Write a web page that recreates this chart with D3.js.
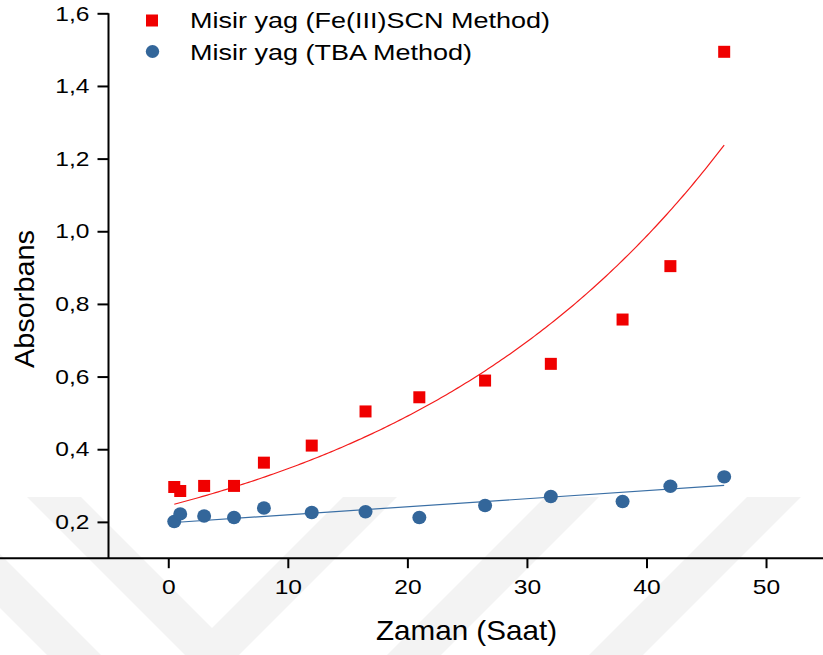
<!DOCTYPE html>
<html>
<head>
<meta charset="utf-8">
<script src="https://cdn.jsdelivr.net/npm/d3@7"></script>
<style>
  html, body { margin: 0; padding: 0; background: #fff; }
  svg { display: block; }
  text { font-family: "Liberation Sans", Arial, sans-serif; fill: #000; }
</style>
</head>
<body>
<svg id="chart" width="823" height="655"></svg>
<script>
// ---- data ----
const timeFe = [0.5, 1, 3, 5.5, 8, 12, 16.5, 21, 26.5, 32, 38, 42, 46.5];
const absFe  = [0.296, 0.285, 0.299, 0.299, 0.363, 0.410, 0.504, 0.543, 0.589, 0.635, 0.757, 0.904, 1.494];
const timeTBA = [0.5, 1, 3, 5.5, 8, 12, 16.5, 21, 26.5, 32, 38, 42, 46.5];
const absTBA  = [0.201, 0.222, 0.216, 0.212, 0.238, 0.226, 0.228, 0.212, 0.245, 0.270, 0.256, 0.298, 0.324];
// fitted curves (parameters read from the drawn fits)
const fitFe  = { a: 0.2443, b: 0.03489, from: 0.5, to: 46.5 };   // y = a*exp(b*x)
const fitTBA = { intercept: 0.1972, slope: 0.002219, from: 0.5, to: 46.5 };
const xTicks = [0, 10, 20, 30, 40, 50];
const xMinor = [-5, 5, 15, 25, 35, 45];
const yTicks = [0.2, 0.4, 0.6, 0.8, 1.0, 1.2, 1.4, 1.6];
const yMinor = [0.1, 0.3, 0.5, 0.7, 0.9, 1.1, 1.3, 1.5];
const seriesNames = ["Misir yag (Fe(III)SCN Method)", "Misir yag (TBA Method)"];
const xTitle = "Zaman (Saat)";
const yTitle = "Absorbans";

const svg = d3.select("#chart");

// ---- faint background watermark (decorative) ----
const wm = svg.append("g").attr("fill", "#f3f3f3");
const wmTop = 497, wmBot = 655, band = 54;
const drop = wmBot - wmTop;
const armsDown = [-111, 27];
const armsUp = [343, 545, 747];
armsDown.forEach(x0 => {
  wm.append("path").attr("d", `M${x0},${wmTop}L${x0 + band},${wmTop}L${x0 + band + drop},${wmBot}L${x0 + drop},${wmBot}Z`);
});
armsUp.forEach(x0 => {
  wm.append("path").attr("d", `M${x0},${wmTop}L${x0 + band},${wmTop}L${x0 + band - drop},${wmBot}L${x0 - drop},${wmBot}Z`);
});

// ---- scales ----
const x = d3.scaleLinear().domain([-5, 55]).range([108.5, 825.8]);
const y = d3.scaleLinear().domain([0.1, 1.6]).range([558.2, 13.3]);
const fmt = d => d3.format(".1f")(d).replace(".", ",");

// ---- axes ----
const gx = svg.append("g").attr("transform", `translate(0,${y(0.1)})`);
gx.call(d3.axisBottom(x).tickValues(xMinor).tickSize(5).tickFormat(""));
gx.call(d3.axisBottom(x).tickValues(xTicks).tickSize(10).tickPadding(8).tickFormat(d3.format("d")));
const gy = svg.append("g").attr("transform", `translate(${x(-5)},0)`);
gy.call(d3.axisLeft(y).tickValues(yMinor).tickSize(5).tickFormat(""));
gy.call(d3.axisLeft(y).tickValues(yTicks).tickSize(11).tickPadding(8).tickFormat(fmt));
[gx, gy].forEach(g => {
  g.selectAll(".domain").attr("stroke", "#000").attr("stroke-width", 2);
  g.selectAll(".tick line").attr("stroke", "#000").attr("stroke-width", 2);
  g.selectAll(".tick text").attr("font-size", 21).attr("fill", "#000")
    .attr("font-family", '"Liberation Sans", Arial, sans-serif');
});
gy.select(".domain").attr("d", `M0,${y(1.6)}V${y(0.1)}`);
gx.select(".domain").attr("d", `M0,0H${x(55)}`);
gx.selectAll(".tick text").attr("dy", "0.71em").attr("y", 21);
[gx, gy].forEach(g => g.selectAll(".tick text").each(function () {
  const L = this.getComputedTextLength();
  if (L > 0) d3.select(this).attr("textLength", L * 1.17).attr("lengthAdjust", "spacingAndGlyphs");
}));

// ---- fit lines ----
const line = d3.line().x(d => x(d[0])).y(d => y(d[1]));
const feFit = d3.range(0, 201).map(i => {
  const t = fitFe.from + (fitFe.to - fitFe.from) * i / 200;
  return [t, fitFe.a * Math.exp(fitFe.b * t)];
});
const tbaFit = [fitTBA.from, fitTBA.to].map(t => [t, fitTBA.intercept + fitTBA.slope * t]);
svg.append("path").attr("d", line(feFit)).attr("fill", "none").attr("stroke", "#f41c1c").attr("stroke-width", 1.2);
svg.append("path").attr("d", line(tbaFit)).attr("fill", "none").attr("stroke", "#3a6fa5").attr("stroke-width", 1.2);

// ---- markers ----
const sq = 12;
svg.append("g").selectAll("rect").data(timeFe.map((t, i) => [t, absFe[i]])).join("rect")
  .attr("x", d => x(d[0]) - sq / 2).attr("y", d => y(d[1]) - sq / 2)
  .attr("width", sq).attr("height", sq).attr("fill", "#f00000");
svg.append("g").selectAll("ellipse").data(timeTBA.map((t, i) => [t, absTBA[i]])).join("ellipse")
  .attr("cx", d => x(d[0])).attr("cy", d => y(d[1]))
  .attr("rx", 7).attr("ry", 6.7).attr("fill", "#33669a");

// ---- legend ----
const lg = svg.append("g");
lg.append("rect").attr("x", 146).attr("y", 14.5).attr("width", 12).attr("height", 12).attr("fill", "#f00000");
lg.append("ellipse").attr("cx", 152.5).attr("cy", 51.5).attr("rx", 6.7).attr("ry", 6.5).attr("fill", "#33669a");
lg.append("text").attr("x", 190).attr("y", 28.3).attr("font-size", 21.5)
  .attr("textLength", 360).attr("lengthAdjust", "spacingAndGlyphs").text(seriesNames[0]);
lg.append("text").attr("x", 190).attr("y", 59.5).attr("font-size", 21.5)
  .attr("textLength", 282).attr("lengthAdjust", "spacingAndGlyphs").text(seriesNames[1]);

// ---- axis titles ----
svg.append("text").attr("x", 466.5).attr("y", 640).attr("text-anchor", "middle")
  .attr("font-size", 28).attr("textLength", 181).attr("lengthAdjust", "spacingAndGlyphs").text(xTitle);
svg.append("text").attr("transform", "translate(33.5,299) rotate(-90)").attr("text-anchor", "middle")
  .attr("font-size", 28).attr("textLength", 138).attr("lengthAdjust", "spacingAndGlyphs").text(yTitle);
</script>
</body>
</html>
